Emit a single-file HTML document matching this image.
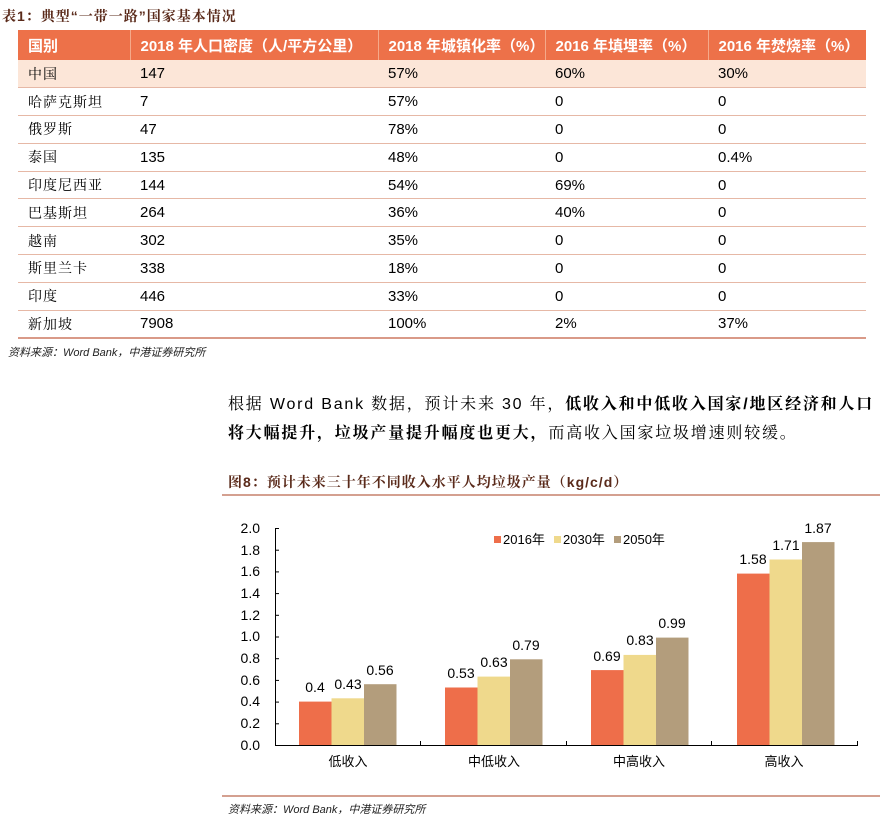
<!DOCTYPE html>
<html><head><meta charset="utf-8"><style>
body{margin:0;width:881px;height:820px;background:#fff;font-family:"Liberation Sans","Noto Sans CJK SC",sans-serif;position:relative;overflow:hidden}
.a{position:absolute;white-space:nowrap}
table{position:absolute;left:18px;top:30px;border-collapse:collapse;font-size:15px;color:#000;table-layout:fixed;width:848px}
td{height:27.8px;padding:0 0 0 10px;border-bottom:1px solid #e6b8a6;box-sizing:border-box;overflow:hidden}
th{height:30px;background:#ED7149;color:#fff;text-align:left;padding:0 0 0 10px;font-size:15px;border-right:1px solid #f5a98a;box-sizing:border-box;overflow:hidden}
tr.c td{background:#FCE6D8}
tr:last-child td{border-bottom:2px solid #d99a88}
.cn{font-family:"Noto Serif CJK SC",serif;font-size:14px;letter-spacing:1px}
</style></head><body>
<div class="a" style="left:2px;top:6px;font-size:14px;font-weight:bold;color:#5a2a1a;font-family:'Liberation Sans','Noto Serif CJK SC',serif;letter-spacing:1px">表1：典型“一带一路”国家基本情况</div>
<table>
<colgroup><col style="width:112px"><col style="width:248px"><col style="width:167px"><col style="width:163px"><col style="width:158px"></colgroup>
<tr><th>国别</th><th>2018 年人口密度（人/平方公里）</th><th>2018 年城镇化率（%）</th><th>2016 年填埋率（%）</th><th style="border-right:none">2016 年焚烧率（%）</th></tr>
<tr class="c"><td class="cn">中国</td><td>147</td><td>57%</td><td>60%</td><td>30%</td></tr>
<tr><td class="cn">哈萨克斯坦</td><td>7</td><td>57%</td><td>0</td><td>0</td></tr>
<tr><td class="cn">俄罗斯</td><td>47</td><td>78%</td><td>0</td><td>0</td></tr>
<tr><td class="cn">泰国</td><td>135</td><td>48%</td><td>0</td><td>0.4%</td></tr>
<tr><td class="cn">印度尼西亚</td><td>144</td><td>54%</td><td>69%</td><td>0</td></tr>
<tr><td class="cn">巴基斯坦</td><td>264</td><td>36%</td><td>40%</td><td>0</td></tr>
<tr><td class="cn">越南</td><td>302</td><td>35%</td><td>0</td><td>0</td></tr>
<tr><td class="cn">斯里兰卡</td><td>338</td><td>18%</td><td>0</td><td>0</td></tr>
<tr><td class="cn">印度</td><td>446</td><td>33%</td><td>0</td><td>0</td></tr>
<tr><td class="cn">新加坡</td><td>7908</td><td>100%</td><td>2%</td><td>37%</td></tr>
</table>
<div class="a" style="left:8px;top:344px;font-size:11px;font-style:italic;color:#222">资料来源：Word Bank，中港证券研究所</div>
<div class="a" style="left:228px;top:390px;font-size:16px;line-height:29px;letter-spacing:1.8px;font-family:'Liberation Sans','Noto Serif CJK SC',serif">根据 Word Bank 数据，预计未来 30 年，<b>低收入和中低收入国家/地区经济和人口</b><br><b>将大幅提升，垃圾产量提升幅度也更大，</b>而高收入国家垃圾增速则较缓。</div>
<div class="a" style="left:228px;top:472px;font-size:14px;font-weight:bold;color:#5a2a1a;letter-spacing:1px;font-family:'Liberation Sans','Noto Serif CJK SC',serif">图8：预计未来三十年不同收入水平人均垃圾产量（kg/c/d）</div>
<div class="a" style="left:222px;top:494px;width:658px;height:2px;background:#d4a090"></div>
<svg class="a" style="left:0;top:0" width="881" height="820">
<g font-size="14" text-anchor="end" fill="#000">
<text x="260" y="533">2.0</text><text x="260" y="555">1.8</text><text x="260" y="576">1.6</text><text x="260" y="598">1.4</text><text x="260" y="620">1.2</text><text x="260" y="641">1.0</text><text x="260" y="663">0.8</text><text x="260" y="685">0.6</text><text x="260" y="706">0.4</text><text x="260" y="728">0.2</text><text x="260" y="750">0.0</text>
</g>
<g stroke="#000" stroke-width="1">
<line x1="275.5" y1="528" x2="275.5" y2="745"/><line x1="275" y1="745.5" x2="858" y2="745.5"/>
<line x1="275" y1="528.5" x2="279" y2="528.5"/><line x1="275" y1="550.2" x2="279" y2="550.2"/><line x1="275" y1="571.9" x2="279" y2="571.9"/><line x1="275" y1="593.6" x2="279" y2="593.6"/><line x1="275" y1="615.3" x2="279" y2="615.3"/><line x1="275" y1="637" x2="279" y2="637"/><line x1="275" y1="658.7" x2="279" y2="658.7"/><line x1="275" y1="680.4" x2="279" y2="680.4"/><line x1="275" y1="702.1" x2="279" y2="702.1"/><line x1="275" y1="723.8" x2="279" y2="723.8"/>
<line x1="420.5" y1="741" x2="420.5" y2="745"/><line x1="566.5" y1="741" x2="566.5" y2="745"/><line x1="711.5" y1="741" x2="711.5" y2="745"/><line x1="857.5" y1="741" x2="857.5" y2="745"/>
</g>
<g>
<rect x="299" y="701.6" width="32.5" height="43.4" fill="#EE6E4A"/><rect x="331.5" y="698.3" width="32.5" height="46.7" fill="#EFD98C"/><rect x="364" y="684.2" width="32.5" height="60.8" fill="#B39D7C"/>
<rect x="445" y="687.5" width="32.5" height="57.5" fill="#EE6E4A"/><rect x="477.5" y="676.6" width="32.5" height="68.4" fill="#EFD98C"/><rect x="510" y="659.3" width="32.5" height="85.7" fill="#B39D7C"/>
<rect x="591" y="670.1" width="32.5" height="74.9" fill="#EE6E4A"/><rect x="623.5" y="654.9" width="32.5" height="90.1" fill="#EFD98C"/><rect x="656" y="637.6" width="32.5" height="107.4" fill="#B39D7C"/>
<rect x="737" y="573.6" width="32.5" height="171.4" fill="#EE6E4A"/><rect x="769.5" y="559.5" width="32.5" height="185.5" fill="#EFD98C"/><rect x="802" y="542.1" width="32.5" height="202.9" fill="#B39D7C"/>
</g>
<g font-size="14" text-anchor="middle" fill="#000">
<text x="315" y="692">0.4</text><text x="348" y="689">0.43</text><text x="380" y="675">0.56</text>
<text x="461" y="678">0.53</text><text x="494" y="667">0.63</text><text x="526" y="650">0.79</text>
<text x="607" y="661">0.69</text><text x="640" y="645">0.83</text><text x="672" y="628">0.99</text>
<text x="753" y="564">1.58</text><text x="786" y="550">1.71</text><text x="818" y="533">1.87</text>
</g>
<g font-size="13" text-anchor="middle" font-family="Liberation Sans,Noto Sans CJK SC,sans-serif">
<text x="348" y="766">低收入</text><text x="494" y="766">中低收入</text><text x="639" y="766">中高收入</text><text x="784" y="766">高收入</text>
</g>
<rect x="494" y="536" width="7" height="7" fill="#EE6E4A"/><text x="503" y="544" font-size="13">2016年</text>
<rect x="554" y="536" width="7" height="7" fill="#EFD98C"/><text x="563" y="544" font-size="13">2030年</text>
<rect x="614" y="536" width="7" height="7" fill="#B39D7C"/><text x="623" y="544" font-size="13">2050年</text>
</svg>
<div class="a" style="left:222px;top:795px;width:658px;height:2px;background:#d4a090"></div>
<div class="a" style="left:228px;top:801px;font-size:11px;font-style:italic;color:#222">资料来源：Word Bank，中港证券研究所</div>
</body></html>
